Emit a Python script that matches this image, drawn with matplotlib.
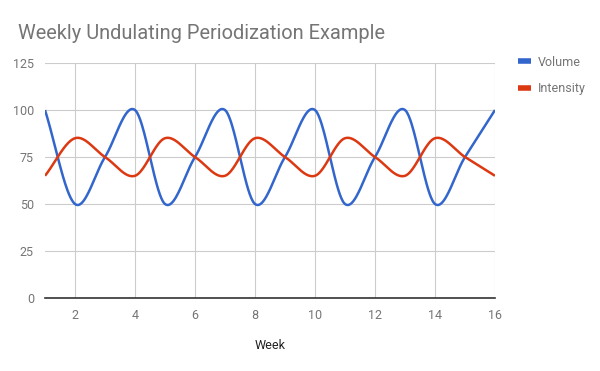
import numpy as np
import matplotlib
matplotlib.use("Agg")
import matplotlib.pyplot as plt
from matplotlib.lines import Line2D

weeks = list(range(1, 17))
volume = [100, 50, 75, 100, 50, 75, 100, 50, 75, 100, 50, 75, 100, 50, 75, 100]
intensity = [65, 85, 75, 65, 85, 75, 65, 85, 75, 65, 85, 75, 65, 85, 75, 65]

TITLE = "Weekly Undulating Periodization Example"
XLABEL = "Week"
xticks = [2, 4, 6, 8, 10, 12, 14, 16]
yticks = [0, 25, 50, 75, 100, 125]

BLUE = "#3366cc"
RED = "#dc3912"
GREY = "#757575"
GRID = "#cccccc"

plt.rcParams["font.family"] = ["Roboto", "DejaVu Sans"]


## smooth curve through the points (cardinal / hermite spline) ##
def smooth(x, y, n=40):
    x = np.asarray(x, float)
    y = np.asarray(y, float)
    m = np.zeros_like(y)
    m[1:-1] = (y[2:] - y[:-2]) / (x[2:] - x[:-2])
    m[0] = (y[1] - y[0]) / (x[1] - x[0])
    m[-1] = (y[-1] - y[-2]) / (x[-1] - x[-2])
    xs, ys = [], []
    for i in range(len(x) - 1):
        h = x[i + 1] - x[i]
        t = np.linspace(0, 1, n, endpoint=False)
        h00 = 2 * t**3 - 3 * t**2 + 1
        h10 = t**3 - 2 * t**2 + t
        h01 = -2 * t**3 + 3 * t**2
        h11 = t**3 - t**2
        xs.append(x[i] + t * h)
        ys.append(h00 * y[i] + h10 * h * m[i] + h01 * y[i + 1] + h11 * h * m[i + 1])
    xs.append([x[-1]])
    ys.append([y[-1]])
    return np.concatenate(xs), np.concatenate(ys)


fig = plt.figure(figsize=(6, 3.71), dpi=100)
ax = fig.add_axes([0.075, 0.197, 0.75, 0.633])

vx, vy = smooth(weeks, volume)
ix, iy = smooth(weeks, intensity)
ax.plot(vx, vy, color=BLUE, lw=1.8, solid_capstyle="butt", zorder=3)
ax.plot(ix, iy, color=RED, lw=1.8, solid_capstyle="butt", zorder=3)

ax.set_xlim(1, 16)
ax.set_ylim(0, 125)
ax.set_xticks(xticks)
ax.set_yticks(yticks)
ax.grid(True, color=GRID, lw=0.8)
ax.set_axisbelow(True)
for s in ["top", "right", "left"]:
    ax.spines[s].set_visible(False)
ax.spines["bottom"].set_color("#333333")
ax.spines["bottom"].set_linewidth(1.2)
ax.spines["bottom"].set_zorder(4)
ax.tick_params(length=0, labelsize=9, labelcolor=GREY, pad=8)
ax.set_xlabel(XLABEL, fontsize=9, color="#222222", labelpad=12)

fig.text(0.03, 0.91, TITLE, fontsize=14.4, color=GREY, ha="left", va="center")

handles = [Line2D([], [], color=BLUE, lw=4, solid_capstyle="butt"),
           Line2D([], [], color=RED, lw=4, solid_capstyle="butt")]
fig.legend(handles, ["Volume", "Intensity"], loc="upper left",
           bbox_to_anchor=(0.845, 0.88), frameon=False, fontsize=9,
           handlelength=1.0, handletextpad=0.6, labelspacing=1.05,
           labelcolor=GREY)

fig.savefig("out.png", dpi=100)
